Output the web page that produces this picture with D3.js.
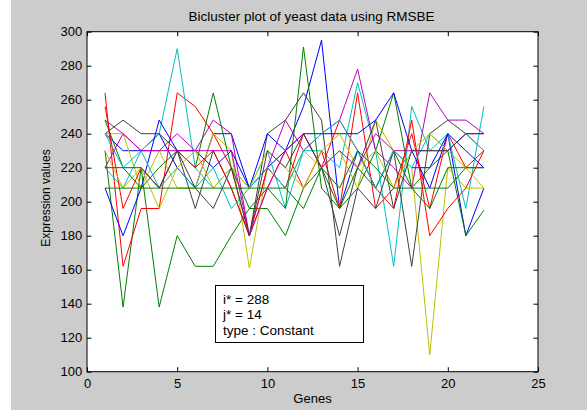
<!DOCTYPE html>
<html>
<head>
<meta charset="utf-8">
<script src="https://cdn.jsdelivr.net/npm/d3@7"></script>
<style>
  html, body { margin: 0; padding: 0; background: #ffffff; }
  svg { display: block; }
  text { font-family: "Liberation Sans", Arial, Helvetica, sans-serif; fill: #000; }
</style>
</head>
<body>
<svg id="fig" width="587" height="417"></svg>
<script>
// Genes along the x axis
const genes = [1,2,3,4,5,6,7,8,9,10,11,12,13,14,15,16,17,18,19,20,21,22];

// Expression profiles of the bicluster, one row per condition
const blue1    = [240,230,230,240,220,208,240,240,208,220,230,256,295,196,230,208,230,220,220,240,180,208];
const green1   = [230,138,220,138,180,162,162,180,196,196,180,208,220,196,208,230,264,208,220,230,180,195];
const red1     = [264,162,196,196,264,256,240,220,180,208,230,208,230,196,264,196,208,240,196,240,220,230];
const cyan1    = [220,208,230,240,290,220,208,220,208,230,196,230,230,220,270,230,162,256,230,240,196,256];
const magenta1 = [248,240,230,230,240,230,248,240,180,220,248,230,240,248,278,230,220,208,264,248,248,240];
const yellow1  = [240,240,208,230,208,208,240,230,161,220,208,230,220,230,208,248,230,220,110,220,208,208];
const gray1    = [240,248,240,240,230,196,230,208,180,240,248,264,248,162,208,196,230,162,240,248,240,230];
const blue2    = [208,180,208,248,230,230,220,230,208,240,230,240,240,240,240,248,264,230,208,240,230,220];
const green2   = [248,220,208,220,230,220,264,220,196,208,196,291,208,196,220,208,230,208,196,220,220,220];
const red2     = [256,196,220,208,230,220,230,208,180,220,208,240,220,248,230,208,196,248,180,196,208,230];
const cyan2    = [240,220,230,208,220,208,220,196,208,220,208,230,240,248,230,208,230,220,240,230,240,230];
const magenta2 = [220,240,230,230,230,230,230,230,180,208,230,240,220,230,220,240,230,230,230,230,240,240];
const yellow2  = [230,208,220,196,220,230,208,220,208,230,220,208,230,240,220,230,208,230,240,230,220,208];
const gray2    = [220,220,220,208,230,208,196,220,180,230,220,240,220,180,220,248,196,230,230,230,240,240];
const green3   = [208,208,208,208,208,208,208,208,208,208,208,196,220,208,230,220,208,208,208,208,220,220];

const profiles = [blue1, green1, red1, cyan1, magenta1, yellow1, gray1,
                  blue2, green2, red2, cyan2, magenta2, yellow2, gray2, green3];
const profileColors = ["#0000ff","#008000","#ff0000","#00bfbf","#bf00bf","#bfbf00","#404040",
                       "#0000ff","#008000","#ff0000","#00bfbf","#bf00bf","#bfbf00","#404040","#008000"];

const xTicks = [0,5,10,15,20,25];
const yTicks = [100,120,140,160,180,200,220,240,260,280,300];
const infoLines = ["i* = 288", "j* = 14", "type : Constant"];

const svg = d3.select("#fig");

// figure background
svg.append("rect").attr("x", 11).attr("y", 0).attr("width", 576).attr("height", 410)
  .attr("fill", "#cccccc");

const L = 87, R = 538, T = 31.7, B = 371.7;
const x = d3.scaleLinear().domain([0, 25]).range([L, R]);
const y = d3.scaleLinear().domain([100, 300]).range([B, T]);

// axes area
svg.append("rect").attr("x", L).attr("y", T).attr("width", R - L).attr("height", B - T)
  .attr("fill", "#ffffff");

// data lines
const line = d3.line().x((d, i) => x(genes[i])).y(d => y(d));
const lines = svg.append("g").attr("fill", "none").attr("stroke-width", 1);
profiles.forEach((p, k) => {
  lines.append("path").attr("d", line(p)).attr("stroke", profileColors[k]);
});

// text box
const box = svg.append("g");
box.append("rect").attr("x", 215.5).attr("y", 285.5).attr("width", 148).attr("height", 57)
  .attr("fill", "#ffffff").attr("stroke", "#000").attr("stroke-width", 1);
infoLines.forEach((t, i) => {
  box.append("text").attr("x", 223).attr("y", 303.5 + i * 15.5)
    .attr("font-size", 13.5).text(t);
});

// axes with inward ticks on all four sides
const tickLen = 4.5;
const axB = d3.axisBottom(x).tickValues(xTicks).tickSize(-tickLen).tickPadding(7).tickFormat(d3.format("d"));
const axT = d3.axisTop(x).tickValues(xTicks).tickSize(-tickLen).tickFormat("");
const axLf = d3.axisLeft(y).tickValues(yTicks).tickSize(-tickLen).tickPadding(4.7).tickFormat(d3.format("d"));
const axRt = d3.axisRight(y).tickValues(yTicks).tickSize(-tickLen).tickFormat("");

function styleAxis(g) {
  g.select(".domain").remove();
  g.selectAll(".tick line").attr("stroke", "#000");
  g.selectAll("text").attr("font-size", 13).attr("font-family", "Liberation Sans, Arial, sans-serif").attr("fill", "#000");
}
svg.append("g").attr("transform", `translate(0,${B})`).call(axB).call(styleAxis);
svg.append("g").attr("transform", `translate(0,${T})`).call(axT).call(styleAxis);
svg.append("g").attr("transform", `translate(${L},0)`).call(axLf).call(styleAxis);
svg.append("g").attr("transform", `translate(${R},0)`).call(axRt).call(styleAxis);

// axes box
svg.append("rect").attr("x", L).attr("y", T).attr("width", R - L).attr("height", B - T)
  .attr("fill", "none").attr("stroke", "#000").attr("stroke-width", 1);

// titles
svg.append("text").attr("x", 311.5).attr("y", 21).attr("text-anchor", "middle")
  .attr("font-size", 13.5).text("Bicluster plot of yeast data using RMSBE");
svg.append("text").attr("x", (L + R) / 2).attr("y", 403).attr("text-anchor", "middle")
  .attr("font-size", 13).text("Genes");
svg.append("text").attr("transform", `translate(50,198) rotate(-90)`)
  .attr("text-anchor", "middle").attr("font-size", 12).text("Expression values");
</script>
</body>
</html>
